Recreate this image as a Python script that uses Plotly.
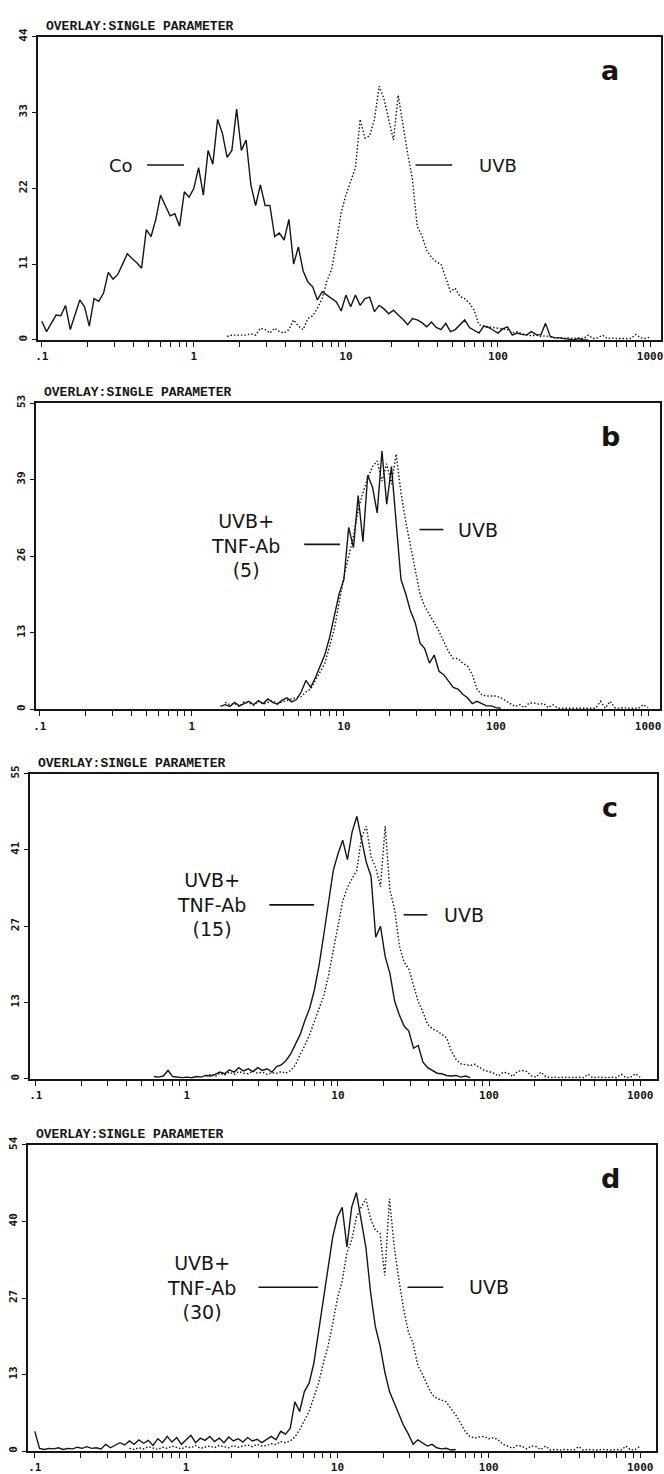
import plotly.graph_objects as go

W, H = 664, 1474
CPD = 32  # histogram channels per decade (4-decade log scale, starting at 0.1)

# ---------------- data (counts per channel) ----------------
A_CO_START = 0
A_CO = [2.7, 1.2, 2.4, 3.6, 3.5, 5.0, 1.5, 3.8, 5.8, 4.8,
        2.0, 6.0, 5.6, 6.8, 9.8, 8.8, 9.5, 11.0, 12.5, 11.8,
        11.2, 10.4, 16.0, 15.0, 17.5, 21.0, 19.5, 18.0, 18.3, 16.5,
        21.5, 20.7, 22.0, 25.0, 21.0, 27.5, 25.5, 32.0, 30.0, 26.5,
        27.5, 33.5, 27.5, 29.0, 22.5, 19.5, 22.5, 19.5, 19.5, 15.0,
        15.5, 14.5, 17.5, 11.0, 13.5, 10.0, 8.4, 7.7, 5.8, 7.0,
        6.5, 6.0, 5.5, 4.2, 6.5, 4.8, 6.5, 5.0, 6.0, 6.2,
        4.1, 5.0, 4.5, 3.8, 4.3, 3.6, 3.0, 2.2, 3.1, 2.9,
        2.5, 1.9, 2.6, 1.8, 1.5, 2.4, 1.2, 1.5, 2.2, 2.9,
        1.8, 1.4, 1.0, 2.0, 1.8, 1.4, 1.0, 1.6, 1.9, 0.7,
        1.0, 0.8, 0.7, 1.2, 0.8, 0.7, 2.4, 0.5, 0.3, 0.3,
        0.2, 0.2, 0.0, 0.2, 0.0, 0.0]
A_UVB_START = 39
A_UVB = [0.5, 0.7, 0.7, 0.7, 0.7, 0.9, 0.7, 1.7, 1.5, 1.0,
         1.7, 1.2, 1.0, 1.5, 2.9, 2.0, 1.5, 3.1, 3.5, 4.6,
         6.0, 8.5, 10.3, 14.0, 18.5, 21.0, 23.0, 25.0, 32.0, 29.3,
         29.6, 32.0, 36.8, 35.0, 32.0, 29.0, 35.5, 31.0, 27.0, 23.3,
         16.5, 15.1, 13.0, 12.0, 11.3, 11.0, 8.9, 7.0, 7.5, 6.3,
         6.0, 5.3, 4.3, 2.2, 2.0, 1.9, 1.9, 1.7, 1.7, 1.5,
         1.0, 1.2, 0.9, 0.8, 0.6, 0.7, 0.5, 0.6, 0.4, 0.3,
         0.3, 0.2, 0.3, 0.2, 0.3, 0.2, 0.7, 0.2, 0.3, 0.7,
         0.2, 0.3, 0.2, 0.2, 0.3, 0.2, 0.8, 0.3, 0.2, 0.4]

B_TNF_START = 38
B_TNF = [0.5, 0.8, 0.5, 1.2, 0.6, 1.0, 1.4, 0.8, 1.5, 1.0,
         1.8, 1.2, 0.9, 1.6, 2.0, 1.3, 1.7, 3.0, 5.0, 3.8,
         5.5, 7.5, 9.5, 12.5, 16.0, 20.0, 22.5, 31.5, 28.0, 37.0,
         29.0, 40.5, 38.5, 34.0, 44.7, 35.5, 42.0, 31.5, 22.5, 20.0,
         17.0, 15.0, 11.5, 10.5, 8.0, 9.4, 6.6, 6.0, 4.8, 3.8,
         3.5, 2.6, 2.0, 1.0, 1.4, 1.0, 0.6, 0.6, 0.3, 0.2]
B_UVB_START = 39
B_UVB = [1.2, 0.8, 1.0, 0.5, 1.3, 1.1, 0.7, 1.4, 0.9, 1.2,
         1.5, 1.0, 1.3, 1.6, 1.8, 2.0, 2.2, 3.0, 3.5, 5.0,
         6.5, 8.0, 11.0, 14.0, 18.5, 23.0, 26.5, 30.0, 34.5, 37.5,
         40.0, 42.0, 43.0, 39.5, 42.5, 39.0, 44.2, 37.5, 32.5, 28.5,
         24.5, 20.0, 17.8, 16.5, 15.0, 13.5, 11.7, 10.0, 8.8, 8.8,
         8.0, 7.5, 6.0, 3.5, 2.5, 2.3, 2.3, 2.3, 2.0, 1.5,
         1.1, 0.5, 0.8, 0.3, 1.1, 1.1, 0.9, 1.0, 0.3, 0.8,
         0.2, 0.2, 0.3, 0.2, 0.2, 0.3, 0.2, 0.2, 0.2, 1.4,
         0.2, 1.4, 0.3, 0.2, 0.3, 0.2, 0.2, 0.2, 0.8, 0.3]

C_TNF_START = 25
C_TNF = [0.4, 0.3, 0.5, 1.5, 0.4, 0.3, 0.2, 0.3, 0.2, 0.4,
         0.3, 0.6, 0.5, 0.8, 1.2, 0.9, 1.6, 1.2, 2.0, 1.4,
         1.8, 1.3, 2.0, 1.5, 1.8, 1.2, 2.2, 2.5, 3.3, 4.5,
         6.2, 8.0, 10.5, 12.7, 16.0, 20.5, 26.0, 32.0, 37.5, 40.5,
         43.0, 39.5, 44.5, 47.3, 43.0, 39.0, 36.5, 25.5, 27.5, 22.0,
         19.0, 14.0, 11.5, 9.5, 8.6, 5.5, 6.0, 3.0, 2.0, 1.5,
         1.0, 0.9, 0.6, 0.5, 0.6, 0.3, 0.5, 0.2]
C_UVB_START = 36
C_UVB = [0.5, 0.8, 0.4, 1.0, 0.7, 1.2, 0.8, 1.3, 1.0, 0.9,
         1.4, 1.0, 1.2, 0.8, 1.1, 1.0, 1.3, 1.0, 1.5, 2.5,
         4.4, 6.0, 8.0, 10.4, 12.5, 15.0, 18.6, 23.0, 27.5, 32.0,
         34.5, 36.0, 37.6, 43.5, 45.5, 40.0, 38.0, 34.6, 45.5, 34.0,
         30.5, 24.0, 21.0, 19.8, 17.0, 13.9, 12.0, 9.8, 9.0, 8.6,
         8.0, 7.4, 5.0, 3.5, 2.7, 2.5, 2.4, 2.6, 2.0, 1.5,
         1.3, 1.0, 0.5, 1.2, 1.0, 0.4, 1.3, 1.5, 1.3, 0.5,
         0.3, 1.2, 0.4, 0.2, 0.3, 0.2, 0.3, 0.2, 0.2, 0.3,
         0.2, 0.8, 0.2, 0.3, 0.2, 0.2, 0.3, 0.2, 0.8, 0.2,
         0.3, 0.9, 0.3]

D_TNF_START = 0
D_TNF = [3.5, 0.5, 0.3, 0.5, 0.4, 0.6, 0.3, 0.5, 0.4, 0.7,
         0.5, 0.8, 0.5, 0.6, 0.4, 1.2, 0.6, 1.0, 1.5, 1.1,
         1.8, 1.2, 2.0, 1.4, 1.9, 1.0, 2.2, 1.5, 2.6, 1.6,
         2.4, 1.2, 2.0, 2.8, 1.5, 2.3, 1.9, 2.6, 1.7, 2.3,
         1.5, 2.5, 1.8, 2.2, 1.6, 2.4, 1.8, 2.1, 1.5, 2.0,
         2.6, 2.0, 3.5, 3.0, 4.0, 8.7, 7.0, 10.5, 12.0, 15.5,
         21.0, 26.0, 32.0, 37.8, 41.3, 43.0, 36.0, 43.0, 45.6, 40.7,
         36.0, 28.0, 22.0, 18.6, 14.0, 10.5, 8.5, 6.3, 4.5, 3.0,
         1.2, 2.0, 1.5, 0.9, 1.2, 0.6, 0.4, 0.5, 0.2, 0.3]
D_UVB_START = 20
D_UVB = [0.5, 0.3, 0.6, 0.4, 0.8, 0.5, 0.3, 0.7, 0.5, 0.9,
         0.6, 0.4, 0.8, 0.6, 1.0, 0.5, 0.7, 0.9, 0.6, 1.0,
         0.8, 0.6, 1.0, 0.7, 0.9, 1.1, 0.8, 1.2, 0.9, 1.0,
         1.3, 1.2, 1.7, 1.5, 1.8, 2.5, 3.8, 5.5, 7.0, 9.5,
         12.0, 15.5, 18.5, 22.5, 27.0, 30.0, 35.0, 37.2, 41.3, 43.0,
         44.5, 41.0, 39.0, 38.4, 31.0, 44.5, 36.0, 30.2, 25.0, 21.0,
         19.0, 15.1, 13.5, 11.6, 10.0, 9.3, 9.0, 8.7, 7.5, 6.4,
         5.0, 3.5, 2.6, 2.3, 2.5, 2.6, 2.2, 2.4, 2.0, 1.2,
         0.9, 0.5, 1.0, 0.9, 0.4, 0.9, 0.8, 0.3, 0.9, 0.2,
         0.3, 0.2, 0.3, 0.2, 0.2, 0.8, 0.2, 0.3, 0.2, 0.2,
         0.3, 0.2, 0.2, 0.3, 0.2, 0.9, 0.2, 0.3, 0.9]

X_TICK_VALUES = [0.1, 1, 10, 100, 1000]
X_TICK_LABELS = ['.1', '1', '10', '100', '1000']
Y_MAX = [44, 53, 55, 54]
Y_TICK_LABELS = [['0', '11', '22', '33', '44'],
                 ['0', '13', '26', '39', '53'],
                 ['0', '13', '27', '41', '55'],
                 ['0', '13', '27', '40', '54']]
PANEL_LETTERS = ['a', 'b', 'c', 'd']
TITLE = 'OVERLAY:SINGLE PARAMETER'
SERIES = [((A_CO_START, A_CO), (A_UVB_START, A_UVB)),
          ((B_TNF_START, B_TNF), (B_UVB_START, B_UVB)),
          ((C_TNF_START, C_TNF), (C_UVB_START, C_UVB)),
          ((D_TNF_START, D_TNF), (D_UVB_START, D_UVB))]

# ---------------- geometry (pixels) ----------------
# left, right, top, bottom, pixel of x=0.1, pixels per decade
GEOM = [(35, 662, 28, 335, 39, 153.0),
        (33, 661, 399, 709, 37, 153.0),
        (27, 658, 774, 1083, 33, 152.0),
        (25, 657, 1150, 1460, 32, 152.25)]

INK = '#151515'
MONO = 'DejaVu Sans Mono'
SANS = 'DejaVu Sans'


def px(x):
    return x / W


def py(y):
    return 1 - y / H


def ch_x(start, n):
    return [10 ** (-1 + (start + i) / CPD) for i in range(n)]


minor = []
for dec in [0.1, 1, 10, 100]:
    for m in range(2, 10):
        minor.append(dec * m)
all_ticks = sorted(X_TICK_VALUES + minor)
all_labels = [X_TICK_LABELS[X_TICK_VALUES.index(v)] if v in X_TICK_VALUES else '' for v in all_ticks]

fig = go.Figure()
layout = dict(width=W, height=H, margin=dict(l=0, r=0, t=0, b=0),
              paper_bgcolor='white', plot_bgcolor='white', showlegend=False)
annotations = []
shapes = []

for i, ((s_start, s_vals), (d_start, d_vals)) in enumerate(SERIES):
    n = '' if i == 0 else str(i + 1)
    left, right, top, bottom, x01, dec = GEOM[i]
    xr = [-1 - (x01 - left) / dec, -1 + (right - x01) / dec]
    fig.add_trace(go.Scatter(x=ch_x(d_start, len(d_vals)), y=d_vals, mode='lines',
                             line=dict(color=INK, width=1.4, dash='1.5px,2px'),
                             xaxis='x' + n, yaxis='y' + n, hoverinfo='skip'))
    fig.add_trace(go.Scatter(x=ch_x(s_start, len(s_vals)), y=s_vals, mode='lines',
                             line=dict(color=INK, width=1.4),
                             xaxis='x' + n, yaxis='y' + n, hoverinfo='skip'))
    ymax = Y_MAX[i]
    layout['xaxis' + n] = dict(type='log', range=xr, domain=[px(left), px(right)],
                               anchor='y' + n, showline=True, linewidth=2, linecolor=INK,
                               mirror=True, ticks='outside', ticklen=5, tickwidth=1.3,
                               tickcolor=INK, tickvals=all_ticks, ticktext=all_labels,
                               showgrid=False, zeroline=False,
                               tickfont=dict(family=MONO, size=11, color=INK, weight='bold'))
    layout['yaxis' + n] = dict(range=[0, ymax], domain=[py(bottom), py(top)],
                               anchor='x' + n, showline=True, linewidth=2, linecolor=INK,
                               mirror=True, ticks='outside', ticklen=4, tickwidth=1.3,
                               tickcolor=INK, tickvals=[ymax * k / 4 for k in range(5)],
                               ticktext=Y_TICK_LABELS[i], tickangle=-90,
                               showgrid=False, zeroline=False,
                               tickfont=dict(family=MONO, size=11, color=INK, weight='bold'))
    annotations.append(dict(text=TITLE, x=px(left + 6), y=py(top - 1), xref='paper', yref='paper',
                            xanchor='left', yanchor='bottom', showarrow=False,
                            font=dict(family='Liberation Mono', size=13, color=INK, weight='bold')))
    annotations.append(dict(text=PANEL_LETTERS[i], x=px(611), y=py(top + 34), xref='paper', yref='paper',
                            xanchor='center', yanchor='middle', showarrow=False,
                            font=dict(family=SANS, size=27, color=INK, weight='bold')))


def label(text, x, y, size=19):
    annotations.append(dict(text=text, x=px(x), y=py(y), xref='paper', yref='paper',
                            xanchor='center', yanchor='middle', align='center', showarrow=False,
                            font=dict(family=SANS, size=size, color=INK)))


def dash(x0, x1, y):
    shapes.append(dict(type='line', xref='paper', yref='paper', x0=px(x0), x1=px(x1),
                       y0=py(y), y1=py(y), line=dict(color=INK, width=1.6)))


# panel a
label('Co', 119, 158, 18)
dash(145, 182, 158)
dash(415, 452, 158)
label('UVB', 498, 158, 18)
# panel b
label('UVB+<br>TNF-Ab<br>(5)', 244, 543)
dash(303, 339, 542)
dash(419, 443, 527)
label('UVB', 478, 527)
# panel c
label('UVB+<br>TNF-Ab<br>(15)', 210, 907)
dash(268, 313, 907)
dash(403, 427, 917)
label('UVB', 464, 917)
# panel d
label('UVB+<br>TNF-Ab<br>(30)', 200, 1294)
dash(257, 317, 1294)
dash(407, 443, 1294)
label('UVB', 489, 1294)

layout['annotations'] = annotations
layout['shapes'] = shapes
fig.update_layout(**layout)
fig.write_html('out.html')
